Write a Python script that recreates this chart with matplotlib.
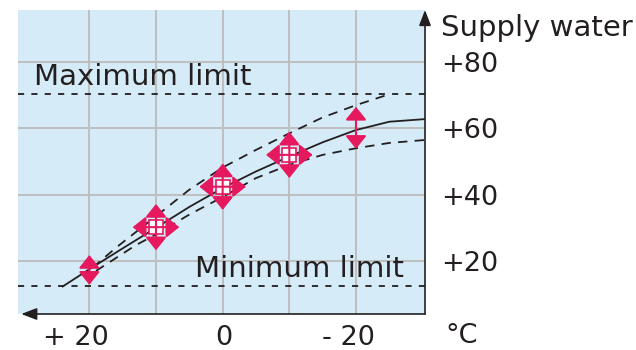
import matplotlib
matplotlib.use('Agg')
import matplotlib.pyplot as plt
from matplotlib import transforms

# ==============================================================================
# Data
# ==============================================================================
# outdoor temperature runs from warm (left) to cold (right)
outdoor_ticks = [20, 0, -20]
outdoor_labels = ['+ 20', '0', '- 20']
grid_x = [20, 10, 0, -10, -20]
supply_ticks = [20, 40, 60, 80]
supply_labels = ['+20', '+40', '+60', '+80']

max_limit = 70.5
min_limit = 12.3

# heating curve and the two displaced curves around it
curve_x = [24, 20, 15, 10, 5, 0, -5, -10, -15, -20, -25, -30.4]
curve_y = [12.3, 17.5, 23.8, 30, 36.3, 42, 47, 51.5, 55.8, 59.5, 62, 62.8]
upper_x = [19.5, 16, 10, 5, 0, -5, -10, -15, -20, -25]
upper_y = [18, 24, 33.5, 41.5, 48.2, 53.5, 58.5, 63.3, 67, 70.3]
lower_x = [19, 13, 10, 5, 0, -5, -10, -15, -20, -25, -30.4]
lower_y = [17, 24.8, 28, 34, 39.3, 45, 49, 52, 54, 55.6, 56.5]

# adjustment points: 4-way crosses and vertical-only arrows
cross_x = [10, 0, -10]
cross_y = [30.2, 42.4, 52.0]
vert_x = [20, -20]
vert_lo = [12.8, 53.8]
vert_hi = [21.8, 66.5]

# ==============================================================================
# Style
# ==============================================================================
blue = '#D5ECF8'
grid_c = '#BEBFC1'
ink = '#231F20'
pink = '#E6195E'
reach_y = 7.0   # half length of cross arrows (supply units)
reach_x = 3.5   # half length of cross arrows (outdoor units)

fig = plt.figure(figsize=(6.36, 3.5), dpi=100)
ax = fig.add_axes([18 / 636, 36 / 350, 407 / 636, 304 / 350])
ax.set_facecolor(blue)
ax.set_xlim(30.7, -30.35)
ax.set_ylim(4.0, 95.7)
for s in ax.spines.values():
    s.set_visible(False)

ax.set_xticks(grid_x)
ax.set_yticks(supply_ticks)
ax.grid(True, color=grid_c, lw=1.5, zorder=0)
ax.set_axisbelow(True)
ax.yaxis.tick_right()
ax.set_yticklabels(supply_labels)
ax.tick_params(axis='x', length=0, labelbottom=False)
ax.tick_params(axis='y', length=0, pad=11.5, labelsize=19.5, labelcolor=ink,
               labelright=True, labelleft=False)

# limits
ax.axhline(max_limit, color=ink, lw=1.3, ls=(0, (3.4, 4.0)), zorder=2)
ax.axhline(min_limit, color=ink, lw=1.3, ls=(0, (3.4, 4.0)), zorder=2)
ax.text(28.3, 73.1, 'Maximum limit', fontsize=21, color=ink, va='baseline', ha='left')
ax.text(4.15, 15.1, 'Minimum limit', fontsize=21, color=ink, va='baseline', ha='left')

# curves
ax.plot(curve_x, curve_y, color=ink, lw=1.3, zorder=3)
ax.plot(upper_x, upper_y, color=ink, lw=1.3, ls=(0, (5.2, 4.0)), zorder=3)
ax.plot(lower_x, lower_y, color=ink, lw=1.3, ls=(0, (5.2, 4.0)), zorder=3)


def pink_arrow(x0, y0, x1, y1):
    ax.annotate('', xy=(x1, y1), xytext=(x0, y0),
                arrowprops=dict(arrowstyle='<|-|>,head_length=0.8,head_width=0.64',
                                mutation_scale=10, color=pink, lw=1.5,
                                shrinkA=0, shrinkB=0), zorder=6)


ax.plot(cross_x, cross_y, 's', ms=9.5, mfc='white', mec=pink, mew=1.2, zorder=5)
for x, y in zip(cross_x, cross_y):
    pink_arrow(x, y - reach_y, x, y + reach_y)
    pink_arrow(x + reach_x, y, x - reach_x, y)
for x, lo, hi in zip(vert_x, vert_lo, vert_hi):
    pink_arrow(x, lo, x, hi)

# axis arrows
axis_arrow = dict(arrowstyle='-|>,head_length=0.52,head_width=0.2', mutation_scale=18,
                  color=ink, lw=1.2, shrinkA=0, shrinkB=0)
ax.annotate('', xy=(0.008, 0), xytext=(1, 0), xycoords='axes fraction',
            arrowprops=axis_arrow, zorder=7)
ax.annotate('', xy=(1, 1.0), xytext=(1, 0), xycoords='axes fraction',
            arrowprops=axis_arrow, zorder=7)

# outdoor tick labels, digits centred on the grid line
base = transforms.blended_transform_factory(ax.transData, ax.transAxes)
for v, lab in zip(outdoor_ticks, outdoor_labels):
    dx = 19 if len(lab) > 1 else 10
    tr = transforms.offset_copy(base, fig=fig, x=dx, y=-31, units='dots')
    ax.text(v, 0, lab, transform=tr, fontsize=19.5, color=ink, ha='right', va='baseline')

fig.text(441 / 636, 1 - 36 / 350, 'Supply water', fontsize=21, color=ink, va='baseline')
fig.text(445 / 636, 1 - 343 / 350, '°C', fontsize=19.5, color=ink, va='baseline')

fig.savefig('out.png', dpi=100)
